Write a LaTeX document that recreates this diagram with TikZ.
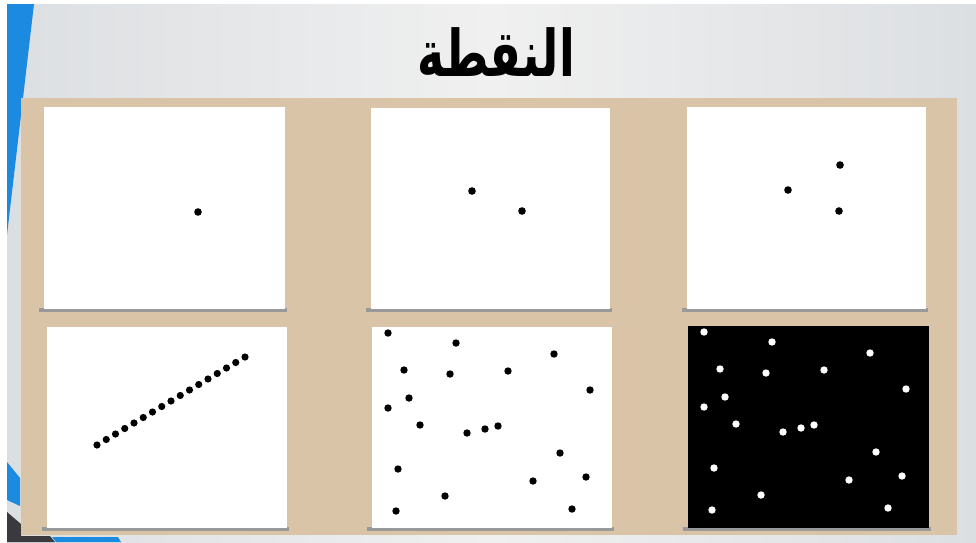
\documentclass[tikz,border=0pt]{standalone}
\usepackage{fontspec}
\newfontfamily\arabicfont[Script=Arabic]{DejaVu Sans}
\TeXXeTstate=1
\definecolor{slideside}{RGB}{220,223,226}
\definecolor{slidemid}{RGB}{240,240,240}
\definecolor{boardtan}{RGB}{217,196,167}
\definecolor{stripeblue}{RGB}{28,138,222}
\definecolor{cornergray}{RGB}{58,58,62}

\begin{document}
\begin{tikzpicture}[x=1pt, y=-1pt,
		panel/.style={fill=white},
		panelshadow/.style={fill=black!40},
		dot/.style={fill=black},
		litdot/.style={fill=white}]
		\useasboundingbox (0,0) rectangle (976,542);

		% slide background
		\fill [white] (0,0) rectangle (976,542);
		\shade [left color=slideside, right color=slideside, middle color=slidemid] (7,4) rectangle (976,542);
		\fill [stripeblue] (7,4) -- (34,4) -- (7,235) -- cycle;

		% corner pieces, bottom left
		\fill [stripeblue] (7,462) -- (20,478) -- (20,506) -- (7,500) -- cycle;
		\fill [cornergray] (7,512) -- (21,524) -- (21,536) -- (50,536) -- (55,542) -- (7,542) -- cycle;
		\fill [stripeblue] (52,537) -- (118,537) -- (121,542) -- (56,542) -- cycle;

		% title
		\node [font=\arabicfont\bfseries\fontsize{46}{52}\selectfont] (title) at (496,52)
			{\scalebox{1}[1.4]{\beginR النقطة\endR}};

		% the board
		\fill [boardtan] (21,98) rectangle (957,535);

		% six panels
		\foreach \xa/\ya/\xb/\yb in {44/107/285/309, 371/108/610/309, 687/107/926/309,
			47/327/287/528, 372/327/612/528, 688/326/929/528} {
			\fill [panelshadow] (\xa-5,\yb-1) rectangle (\xb+2,\yb+3);
			\fill [panel] (\xa,\ya) rectangle (\xb,\yb);
		}
		\fill [black] (688,326) rectangle (929,528);

		% one, two and three points
		\fill [dot] (198,212) circle (3.8);
		\fill [dot] (472,191) circle (3.8);
		\fill [dot] (522,211) circle (3.8);
		\fill [dot] (788,190) circle (3.8);
		\fill [dot] (840,165) circle (3.8);
		\fill [dot] (839,211) circle (3.8);

		% points in a row
		\foreach \i in {0,...,16}
			\fill [dot] (97+\i*9.25, 445-\i*5.5) circle (3.6);

		% scattered points, dark on light and light on dark
		\foreach \shx/\shy/\kind in {372/327/dot, 688/326/litdot} {
			\begin{scope}[shift={(\shx,\shy)}]
				\foreach \px/\py in {16/6, 84/16, 182/27, 32/43, 78/47, 136/44, 218/63,
					37/71, 16/81, 48/98, 95/106, 113/102, 126/99, 188/126, 26/142,
					214/150, 161/154, 73/169, 24/184, 200/182}
					\fill [\kind] (\px,\py) circle (3.7);
			\end{scope}
		}
	\end{tikzpicture}
\end{document}
